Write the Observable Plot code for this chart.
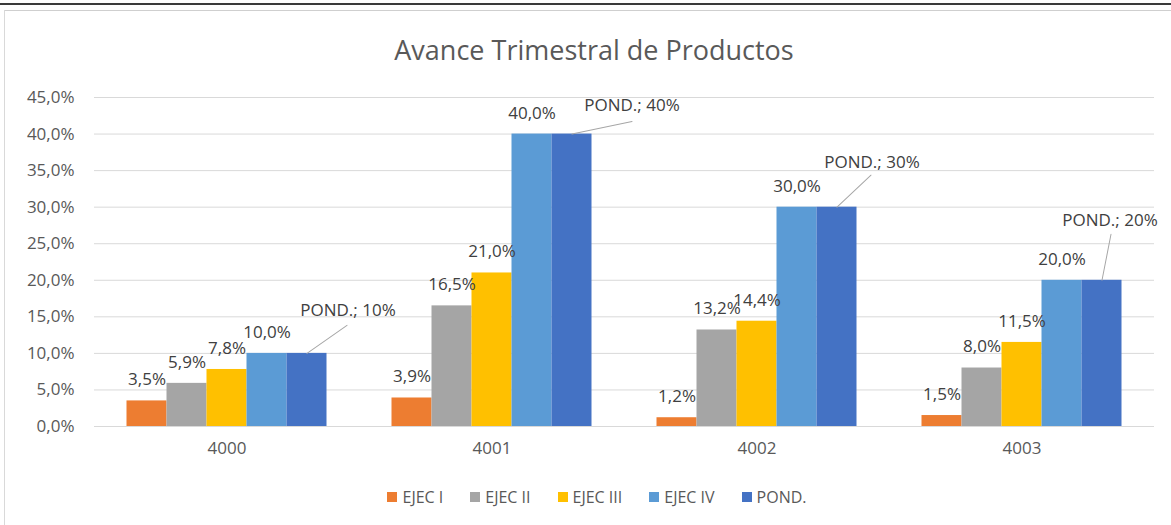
<!DOCTYPE html>
<html>
<head>
<meta charset="utf-8">
<script src="https://cdn.jsdelivr.net/npm/d3@7"></script>
<script src="https://cdn.jsdelivr.net/npm/@observablehq/plot@0.6"></script>
<style>
  html, body { margin: 0; padding: 0; background: #fff; }
  body { width: 1171px; height: 525px; position: relative; overflow: hidden; font-family: "Open Sans", sans-serif; color: #595959; }
  .sheet-top { position: absolute; left: 0; top: 3px; width: 1171px; height: 2px; background: #3a3a3a; }
  .sheet-row { position: absolute; left: 4px; top: 10px; width: 1167px; height: 1px; background: #cfcfcf; }
  .chart-left { position: absolute; left: 4px; top: 10px; width: 1px; height: 515px; background: #d9d9d9; }
  #title { position: absolute; left: 0; top: 32px; width: 1171px; padding-left: 17px; box-sizing: border-box; text-align: center; font-size: 27px; line-height: 36px; color: #595959; }
  #chart { position: absolute; left: 0; top: 75px; }
  #legend { position: absolute; left: 0; top: 486px; width: 1171px; padding-left: 23px; box-sizing: border-box; display: flex; justify-content: center; gap: 27px; font-size: 16px; line-height: 22px; color: #595959; }
  #legend .item { display: flex; align-items: center; gap: 5px; }
  #legend .sw { width: 10px; height: 10px; display: inline-block; }
</style>
</head>
<body>
<div class="sheet-top"></div>
<div class="sheet-row"></div>
<div class="chart-left"></div>
<div id="title">Avance Trimestral de Productos</div>
<div id="chart"></div>
<div id="legend"></div>
<script>
// ---- data ----
const groups = ["4000", "4001", "4002", "4003"];
const seriesNames = ["EJEC I", "EJEC II", "EJEC III", "EJEC IV", "POND."];
const ejecI   = [3.5, 3.9, 1.2, 1.5];
const ejecII  = [5.9, 16.5, 13.2, 8.0];
const ejecIII = [7.8, 21.0, 14.4, 11.5];
const ejecIV  = [10.0, 40.0, 30.0, 20.0];
const pond    = [10, 40, 30, 20];
const yTicks  = [0, 5, 10, 15, 20, 25, 30, 35, 40, 45];
const colors  = ["#ED7D31", "#A5A5A5", "#FFC000", "#5B9BD5", "#4472C4"];
// callout placement (pixel offsets from bar top, style only)
const calloutText = [[41, -43], [60, -29], [35, -45], [8, -60]];
const calloutLine = [[40, -28], [60, -12.6], [34, -32], [9, -46]];

// ---- build table ----
const seriesValues = [ejecI, ejecII, ejecIII, ejecIV, pond];
const table = seriesNames.flatMap((s, si) =>
  groups.map((g, gi) => ({group: g, series: s, value: seriesValues[si][gi] / 100})));

const locale = d3.formatLocale({decimal: ",", thousands: ".", grouping: [3], currency: ["", "€"], percent: "%"});
const pct1 = locale.format(".1%");
const pct0 = locale.format(".0%");

const pondRows = table.filter(d => d.series === "POND.");
const lineShape = {draw(context, l) { context.moveTo(0, 0); context.lineTo(0, -l); }};

const callouts = pondRows.flatMap((row, i) => {
  const [tx, ty] = calloutText[i];
  const [lx, ly] = calloutLine[i];
  return [
    Plot.vector([row], {
      fx: "group", x: "series", y: "value",
      length: Math.hypot(lx, ly),
      rotate: Math.atan2(lx, -ly) * 180 / Math.PI,
      anchor: "start", shape: lineShape,
      stroke: "#a6a6a6", strokeWidth: 1
    }),
    Plot.text([row], {
      fx: "group", x: "series", y: "value",
      text: d => `POND.; ${pct0(d.value)}`,
      dx: tx, dy: ty, fill: "#404040", fontSize: 17
    })
  ];
});

const chart = Plot.plot({
  width: 1171,
  height: 395,
  marginTop: 22,
  marginBottom: 44,
  marginLeft: 93.5,
  marginRight: 17.5,
  style: {fontFamily: "Open Sans, sans-serif", fontSize: "17px", color: "#595959", background: "transparent", overflow: "visible"},
  fx: {domain: groups, padding: 0, axis: "bottom", tickSize: 0, tickPadding: 15, label: null},
  x: {domain: seriesNames, paddingInner: 0, paddingOuter: 0.763, axis: null},
  y: {domain: [0, 0.45], ticks: yTicks.map(t => t / 100), tickFormat: pct1, tickSize: 0, tickPadding: 20, label: null},
  color: {domain: seriesNames, range: colors},
  marks: [
    Plot.ruleY(yTicks.map(t => t / 100), {stroke: "#d9d9d9", strokeWidth: 1}),
    Plot.barY(table, {fx: "group", x: "series", y: "value", fill: "series"}),
    Plot.text(table.filter(d => d.series !== "POND."), {
      fx: "group", x: "series", y: "value",
      text: d => pct1(d.value), dy: -21, fill: "#404040", fontSize: 17
    }),
    ...callouts
  ]
});
document.getElementById("chart").appendChild(chart);

// ---- legend ----
const legend = document.getElementById("legend");
seriesNames.forEach((s, i) => {
  const item = document.createElement("span");
  item.className = "item";
  const sw = document.createElement("span");
  sw.className = "sw";
  sw.style.background = colors[i];
  const label = document.createElement("span");
  label.textContent = s;
  item.appendChild(sw);
  item.appendChild(label);
  legend.appendChild(item);
});
</script>
</body>
</html>
